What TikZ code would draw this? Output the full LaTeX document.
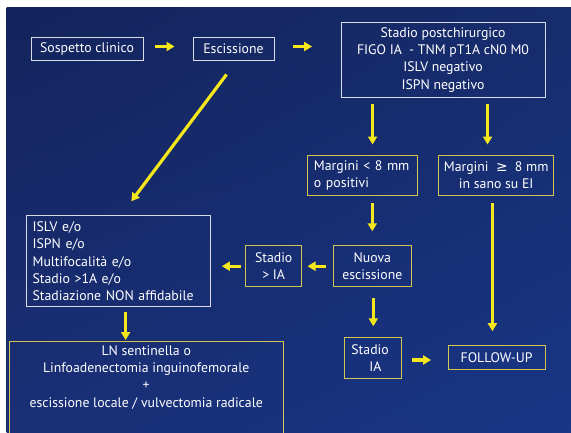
\documentclass[tikz,border=0pt]{standalone}
\usepackage{fontspec}
\setmainfont{PT Sans}
\newfontfamily\symfont{DejaVu Sans}
\usetikzlibrary{arrows.meta,positioning,calc,shadings}
\definecolor{bgul}{HTML}{13245C}
\definecolor{bgur}{HTML}{172C6C}
\definecolor{bgll}{HTML}{1A2F76}
\definecolor{bglr}{HTML}{183586}
\definecolor{arrowyellow}{HTML}{F6E71C}
\definecolor{boxyellow}{HTML}{D2C650}
\definecolor{boxwhite}{HTML}{D9DCE6}

\begin{document}
\begin{tikzpicture}[x=1pt, y=-1pt, font=\fontsize{13.8}{17.2}\selectfont,
  white box/.style={draw=boxwhite, line width=0.9pt, text=white, inner sep=0pt},
  yellow box/.style={draw=boxyellow, line width=0.9pt, text=white, inner sep=0pt},
  arr/.style={draw=arrowyellow, line width=3.2pt, -{Triangle[length=8pt,width=9pt]}}]%
\useasboundingbox (0,0) rectangle (571,432);
\fill[white] (0,0) rectangle (571,432);
\shade[upper left=bgul, upper right=bgur, lower left=bgll, lower right=bglr] (6.5,7.3) rectangle (571,432);
\begin{scope}
\node[white box, minimum width=112pt, minimum height=23pt] (sosp) at (87,48.5) {Sospetto clinico};
\node[white box, minimum width=81pt, minimum height=23pt] (esc) at (233.5,48.5) {Escissione};
\node[white box, minimum width=204pt, minimum height=75pt, align=center] (post) at (443,59.8)
  {Stadio postchirurgico\\FIGO IA\ \ - TNM pT1A cN0 M0\\ISLV negativo\\ISPN negativo};
\node[yellow box, inner xsep=7pt, text width=96.7pt, minimum height=40.7pt, align=left] (mlt) at (362.3,175.3)
  {Margini < 8 mm\\o positivi};
\node[yellow box, minimum width=114.7pt, minimum height=40.7pt, align=center] (mge) at (496.2,175.3)
  {Margini\ \ {\symfont ≥}\ \ 8 mm\\in sano su EI};
\node[yellow box, minimum width=78.5pt, minimum height=41pt, align=center] (nuova) at (372.3,266.2)
  {Nuova\\escissione};
\node[yellow box, minimum width=55.7pt, minimum height=41pt, align=center] (stgt) at (273.7,266.2)
  {Stadio\\> IA};
\node[white box, inner xsep=6pt, text width=171.4pt, minimum height=91pt, align=left] (islv) at (118.3,261.2)
  {ISLV e/o\\ISPN e/o\\Multifocalità e/o\\Stadio >1A e/o\\Stadiazione NON affidabile};
\node[yellow box, minimum width=274.2pt, minimum height=100pt, anchor=north] (ln) at (146.2,340.7) {};
\node[text=white, inner sep=0pt, align=center, anchor=north] (lntext) at (146.2,345.5)
  {LN sentinella o\\Linfoadenectomia inguinofemorale\\+\\escissione locale / vulvectomia radicale};
\node[yellow box, inner xsep=6.5pt, text width=43.8pt, minimum height=40.6pt, align=left] (stia) at (373.3,358)
  {Stadio\\\hspace*{18pt}IA};
\node[yellow box, minimum width=97.1pt, minimum height=23.3pt] (follow) at (496.6,357.3) {FOLLOW-UP};
\end{scope}
\begin{scope}
\draw[arr, shorten <=12pt, shorten >=18pt] ([yshift=2pt]sosp.east) -- ([yshift=2pt]esc.west);
\draw[arr, shorten <=19pt, shorten >=28.5pt] ([yshift=2pt]esc.east) -- ([yshift=2pt]esc.east -| post.west);
\draw[arr] ([xshift=-7pt,yshift=-14pt]esc.south) -- ([xshift=13pt,yshift=14pt]islv.north);
\draw[arr, shorten <=6pt, shorten >=10pt] ([xshift=32pt]post.south west) -- ([xshift=32pt]post.south west |- mlt.north);
\draw[arr, shorten <=6pt, shorten >=10pt] ([xshift=147pt]post.south west) -- ([xshift=147pt]post.south west |- mge.north);
\draw[arr, shorten <=7pt, shorten >=14pt] (nuova.north |- mlt.south) -- (nuova.north);
\draw[arr, shorten <=7pt, shorten >=14pt] ([xshift=-4.2pt]follow.north |- mge.south) -- ([xshift=-4.2pt]follow.north);
\draw[arr, shorten <=7pt, shorten >=5.5pt] (nuova.west) -- (stgt.east);
\draw[arr, shorten <=4.8pt, shorten >=11.4pt] (stgt.west) -- (stgt.west -| islv.east);
\draw[arr, shorten <=5pt, shorten >=0.7pt] ([xshift=7.3pt]islv.south) -- ([xshift=7.3pt]islv.south |- ln.north);
\draw[arr, shorten <=10.6pt, shorten >=11pt] (stia.north |- nuova.south) -- (stia.north);
\draw[arr, shorten <=9.8pt, shorten >=16.5pt] ([yshift=-2pt]stia.east) -- ([yshift=-2pt]stia.east -| follow.west);
\end{scope}
\end{tikzpicture}
\end{document}
